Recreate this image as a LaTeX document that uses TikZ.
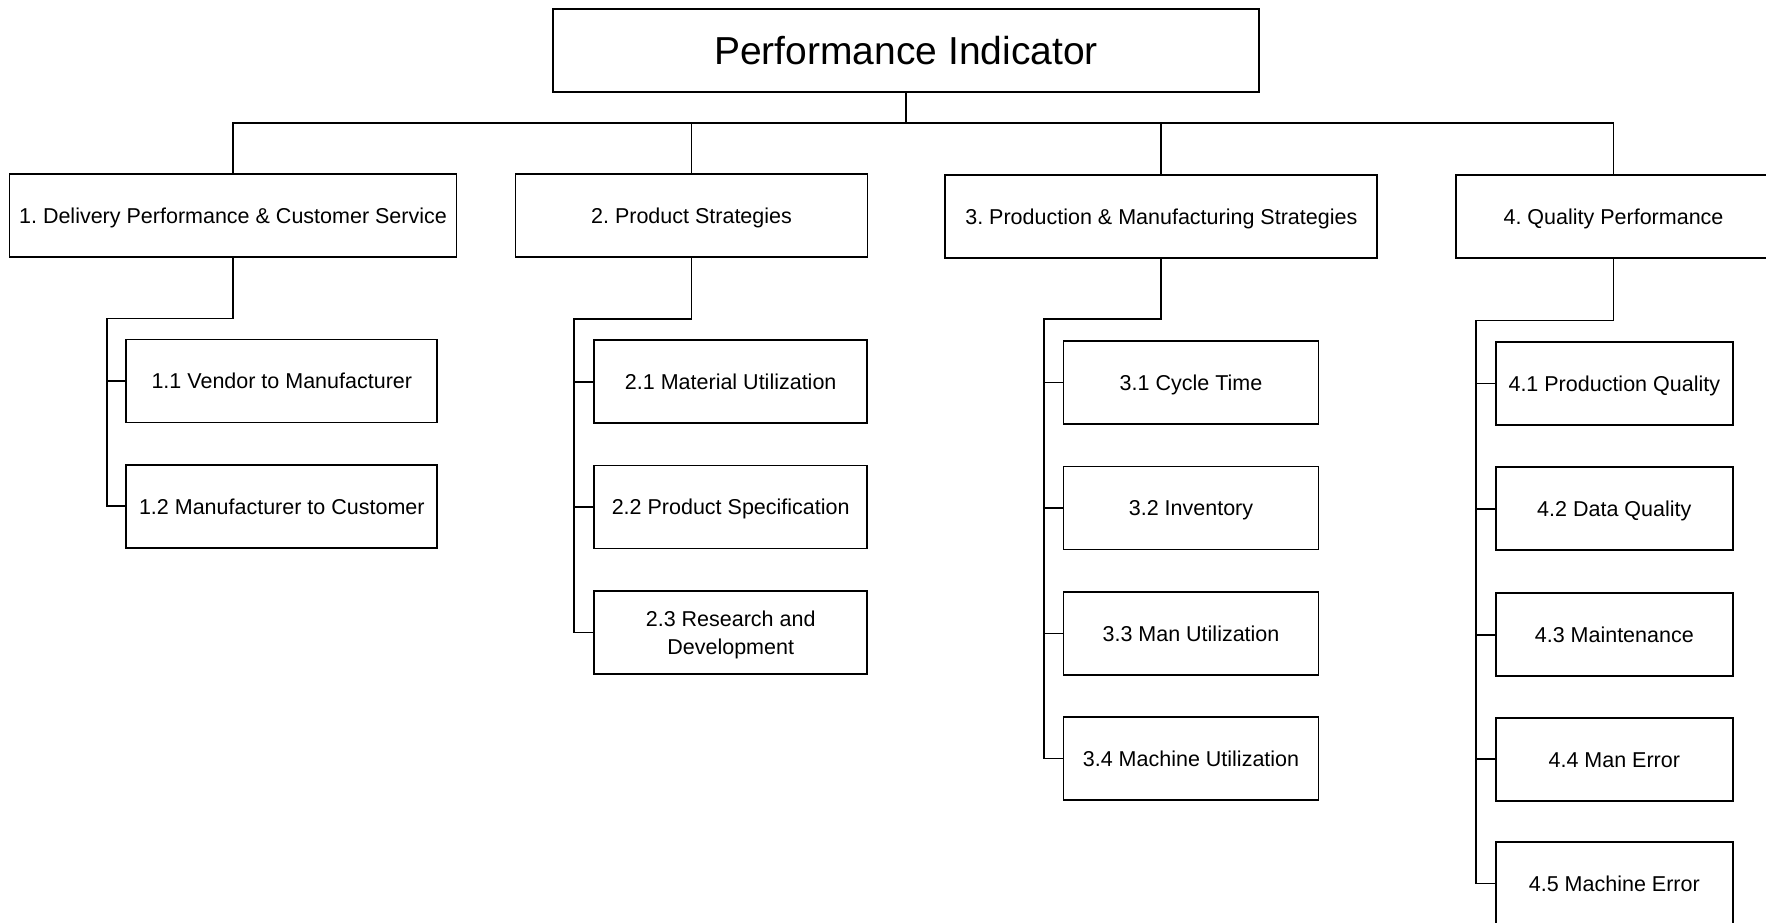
\documentclass[tikz,border=0pt]{standalone}
\usepackage{fontspec}
\setmainfont{Liberation Sans}
\frenchspacing
\begin{document}
\begin{tikzpicture}[x=1pt,y=-1pt,
  line width=1.8pt,
  box/.style={draw=black, rectangle, inner sep=0pt, minimum height=83pt, line width=1.8pt,
    font=\fontsize{21.5}{28}\selectfont, text height=15.4pt, text depth=0pt},
  titlebox/.style={box, font=\fontsize{39}{46}\selectfont, text height=28pt},
  twoline/.style={align=center, text height=43.4pt, text depth=0pt},
  wire/.style={draw=black, line width=1.8pt}]
\useasboundingbox (0,0) rectangle (1766,922);
\clip (0,0) rectangle (1766,922);
\fill[white] (0,0) rectangle (1766,922);

% root
\node[titlebox, minimum width=706pt] (top) at (906,50.5) {Performance Indicator};

% first level
\node[box, minimum width=447pt] (b1) at (233,215.5) {1. Delivery Performance \& Customer Service};
\node[box, minimum width=352pt] (b2) at (691.5,215.8) {2. Product Strategies};
\node[box, minimum width=432pt] (b3) at (1161.3,216.3) {3. Production \& Manufacturing Strategies};
\node[box, minimum width=315pt] (b4) at (1613.5,216.8) {4. Quality Performance};

% second level, group 1
\node[box, minimum width=311pt] (c11) at (281.8,381) {1.1 Vendor to Manufacturer};
\node[box, minimum width=311pt] (c12) at (281.8,506.3) {1.2 Manufacturer to Customer};

% group 2
\node[box, minimum width=273pt] (c21) at (730.7,381.7) {2.1 Material Utilization};
\node[box, minimum width=273pt] (c22) at (730.7,507) {2.2 Product Specification};
\node[box, twoline, minimum width=273pt] (c23) at (730.7,632.5) {2.3 Research and\\Development};

% group 3
\node[box, minimum width=255pt] (c31) at (1191,382.5) {3.1 Cycle Time};
\node[box, minimum width=255pt] (c32) at (1191,508) {3.2 Inventory};
\node[box, minimum width=255pt] (c33) at (1191,633.4) {3.3 Man Utilization};
\node[box, minimum width=255pt] (c34) at (1191,758.4) {3.4 Machine Utilization};

% group 4
\node[box, minimum width=237pt] (c41) at (1614.3,383.4) {4.1 Production Quality};
\node[box, minimum width=237pt] (c42) at (1614.3,508.7) {4.2 Data Quality};
\node[box, minimum width=237pt] (c43) at (1614.3,634.7) {4.3 Maintenance};
\node[box, minimum width=237pt] (c44) at (1614.3,759.3) {4.4 Man Error};
\node[box, minimum width=237pt] (c45) at (1614.3,883.5) {4.5 Machine Error};

% bus under the root
\coordinate (bus) at (906,122.7);
\draw[wire] (top.south) -- (top.south |- bus);
\draw[wire] (b1.north) -- (b1.north |- bus) -- (b4.north |- bus) -- (b4.north);
\draw[wire] (b2.north) -- (b2.north |- bus);
\draw[wire] (b3.north) -- (b3.north |- bus);

% spines of the groups
\coordinate (s1) at (107.3,318.5);
\coordinate (s2) at (574,318.8);
\coordinate (s3) at (1044,318.8);
\coordinate (s4) at (1476.3,320.5);

\draw[wire] (b1.south) |- (s1) -- (s1 |- c12.west) -- (c12.west);
\draw[wire] (s1 |- c11.west) -- (c11.west);

\draw[wire] (b2.south) |- (s2) -- (s2 |- c23.west) -- (c23.west);
\draw[wire] (s2 |- c21.west) -- (c21.west);
\draw[wire] (s2 |- c22.west) -- (c22.west);

\draw[wire] (b3.south) |- (s3) -- (s3 |- c34.west) -- (c34.west);
\draw[wire] (s3 |- c31.west) -- (c31.west);
\draw[wire] (s3 |- c32.west) -- (c32.west);
\draw[wire] (s3 |- c33.west) -- (c33.west);

\draw[wire] (b4.south) |- (s4) -- (s4 |- c45.west) -- (c45.west);
\draw[wire] (s4 |- c41.west) -- (c41.west);
\draw[wire] (s4 |- c42.west) -- (c42.west);
\draw[wire] (s4 |- c43.west) -- (c43.west);
\draw[wire] (s4 |- c44.west) -- (c44.west);
\end{tikzpicture}
\end{document}
